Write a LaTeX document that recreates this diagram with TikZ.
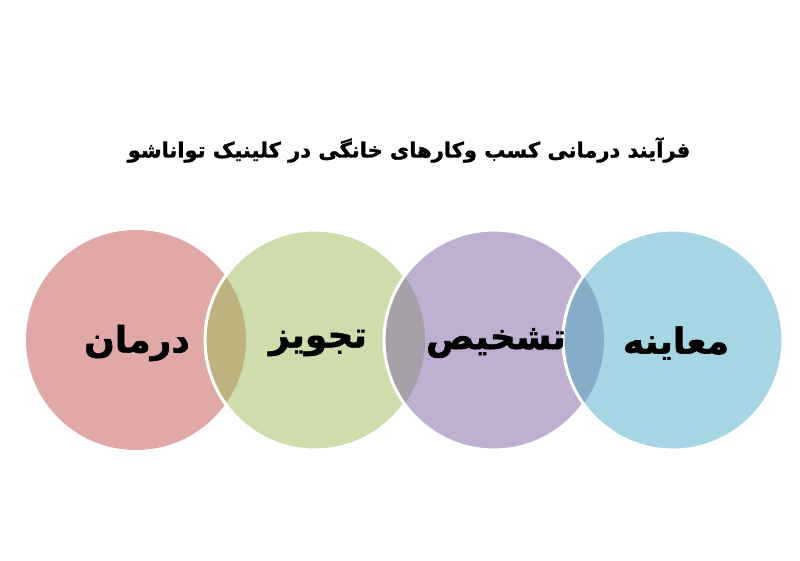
\documentclass[tikz,border=0pt]{standalone}
\usepackage{fontspec}
\TeXXeTstate=1
\newfontfamily\arabicfont[Script=Arabic, BoldFeatures={FakeBold=1.5}]{DejaVu Sans}
\definecolor{cred}{HTML}{E0A8A7}
\definecolor{cgreen}{HTML}{CFDDAC}
\definecolor{cpurple}{HTML}{BFB0D1}
\definecolor{cblue}{HTML}{A6D6E3}
\definecolor{crg}{HTML}{BEB27F}
\definecolor{cgp}{HTML}{A79FA8}
\definecolor{cpb}{HTML}{86ADC8}
\tikzset{
  ring/.style={draw=white, line width=3pt},
  lbl/.style={font=\arabicfont\bfseries\fontsize{36}{42}\selectfont, text=black},
  ttl/.style={font=\arabicfont\bfseries\fontsize{21}{25}\selectfont, text=black}
}
\begin{document}
\begin{tikzpicture}[x=1pt,y=-1pt]
\useasboundingbox (0,0) rectangle (800,560);
\fill[white] (0,0) rectangle (800,560);
\def\R{110}
% red
\fill[cred] (136,340) circle (\R);
% green
\fill[cgreen] (315,340) circle (\R);
\begin{scope}
\clip (136,340) circle (\R);
\fill[crg] (315,340) circle (\R);
\end{scope}
\draw[ring] (315,340) circle (\R);
% purple
\fill[cpurple] (494,340) circle (\R);
\begin{scope}
\clip (315,340) circle (\R);
\fill[cgp] (494,340) circle (\R);
\end{scope}
\draw[ring] (494,340) circle (\R);
% blue
\fill[cblue] (673,340) circle (\R);
\begin{scope}
\clip (494,340) circle (\R);
\fill[cpb] (673,340) circle (\R);
\end{scope}
\draw[ring] (673,340) circle (\R);
\node[ttl] (title) at (409,150) {\beginR فرآیند درمانی کسب  وکارهای خانگی در کلینیک تواناشو\endR};
\node[lbl] (l1) at (137,343) {\beginR درمان\endR};
\node[lbl] (l2) at (318,343) {\beginR تجویز\endR};
\node[lbl] (l3) at (496,343) {\beginR تشخیص\endR};
\node[lbl] (l4) at (676,343) {\beginR معاینه\endR};
\end{tikzpicture}
\end{document}
